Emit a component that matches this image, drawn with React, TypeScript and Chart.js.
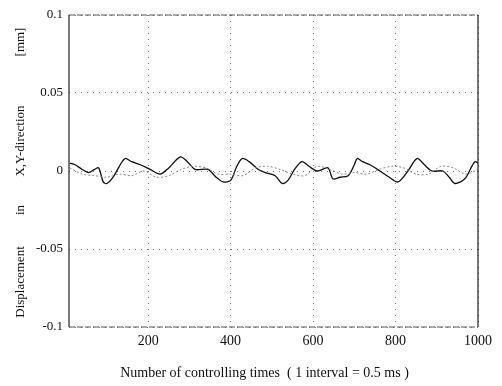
import React, { useEffect, useRef } from "react";
import { Chart, registerables } from "chart.js";

Chart.register(...registerables);

const darkX = [10, 23, 40, 55, 70, 80, 91, 100, 115, 130, 144, 160, 181, 205, 229, 250, 278, 295, 314, 345, 365, 382, 400, 415, 428, 445, 467, 484, 508, 525, 539, 555, 573, 590, 610, 636, 648, 665, 685, 700, 707, 720, 738, 762, 785, 806, 830, 852, 870, 888, 915, 930, 944, 968, 985, 993, 1000];
const darkY = [0.005, 0.004, 0.001, -0.001, 0.001, 0.002, -0.007, -0.008, -0.004, 0.003, 0.008, 0.006, 0.004, 0.001, -0.002, 0.002, 0.009, 0.006, 0.001, 0.001, -0.004, -0.007, -0.006, 0.003, 0.008, 0.006, 0.001, -0.001, -0.003, -0.008, -0.006, 0.001, 0.006, 0.003, 0.0, 0.002, -0.005, -0.004, -0.003, 0.004, 0.008, 0.006, 0.004, 0.0, -0.004, -0.007, 0.0, 0.008, 0.004, 0.0, 0.0, -0.004, -0.008, -0.005, 0.003, 0.006, 0.005];

const lightX = [10, 40, 70, 100, 130, 160, 190, 220, 250, 280, 310, 340, 370, 400, 430, 460, 490, 520, 550, 580, 610, 640, 670, 700, 730, 760, 790, 820, 850, 880, 910, 940, 970, 1000];
const lightY = [0.002, -0.002, -0.003, -0.004, -0.002, -0.003, 0.0, -0.004, -0.003, 0.001, 0.003, 0.002, -0.002, -0.002, -0.003, 0.002, 0.003, 0.001, -0.002, -0.003, 0.003, 0.001, -0.002, -0.001, -0.002, 0.001, 0.003, 0.002, -0.002, -0.002, 0.003, 0.002, -0.002, 0.001];

const xTicks = [200, 400, 600, 800, 1000];
const yTicks = [-0.1, -0.05, 0, 0.05, 0.1];
const yTickLabels = ["-0.1", "-0.05", "0", "0.05", "0.1"];
const xTitle = "Number of controlling times  ( 1 interval = 0.5 ms )";
const yTitleParts = ["Displacement", "in", "X,Y-direction", "[mm]"];

const FONT = "'Liberation Serif', 'DejaVu Serif', serif";

export default function App() {
  const ref = useRef<HTMLCanvasElement | null>(null);
  useEffect(() => {
    if (!ref.current) return;
    const framePlugin = {
      id: "frame",
      afterDraw(chart: any) {
        const { ctx, chartArea: a } = chart;
        ctx.save();
        ctx.strokeStyle = "#222";
        ctx.lineWidth = 1.2;
        ctx.beginPath();
        ctx.moveTo(a.left, a.top);
        ctx.lineTo(a.left, a.bottom);
        ctx.moveTo(a.right, a.top);
        ctx.lineTo(a.right, a.bottom);
        ctx.stroke();
        ctx.setLineDash([6, 2]);
        ctx.strokeStyle = "#555";
        ctx.lineWidth = 1;
        ctx.beginPath();
        ctx.moveTo(a.left, a.top);
        ctx.lineTo(a.right, a.top);
        ctx.moveTo(a.left, a.bottom);
        ctx.lineTo(a.right, a.bottom);
        ctx.stroke();
        ctx.setLineDash([]);
        ctx.fillStyle = "#111";
        ctx.font = `14px ${FONT}`;
        ctx.textAlign = "center";
        ctx.textBaseline = "middle";
        ctx.fillText(xTitle, (a.left + a.right) / 2 - 9, 373);
        ctx.font = `13px ${FONT}`;
        ctx.translate(21, 0);
        ctx.rotate(-Math.PI / 2);
        ctx.fillText(yTitleParts[0], -282, 0);
        ctx.fillText(yTitleParts[1], -210, 0);
        ctx.fillText(yTitleParts[2], -141, 0);
        ctx.fillText(yTitleParts[3], -42, 0);
        ctx.restore();
      },
    };
    const chart = new Chart(ref.current, {
      type: "line",
      data: {
        datasets: [
          {
            data: lightX.map((x, i) => ({ x, y: lightY[i] })),
            borderColor: "#8a8a8a",
            borderWidth: 1,
            borderDash: [2, 2],
            pointRadius: 0,
            tension: 0.3,
          },
          {
            data: darkX.map((x, i) => ({ x, y: darkY[i] })),
            borderColor: "#111",
            borderWidth: 1.3,
            pointRadius: 0,
            tension: 0.3,
          },
        ],
      },
      options: {
        animation: false,
        responsive: false,
        maintainAspectRatio: false,
        layout: { padding: { top: 15, right: 24, left: 0, bottom: 0 } },
        plugins: { legend: { display: false }, tooltip: { enabled: false } },
        scales: {
          x: {
            type: "linear",
            min: 8,
            max: 1000,
            afterBuildTicks: (s: any) => {
              s.ticks = xTicks.map((v) => ({ value: v }));
            },
            afterFit: (s: any) => {
              s.height = 59;
            },
            border: { display: false, dash: [1, 5] },
            grid: {
              drawTicks: false,
              color: "#777",
              lineWidth: 1,
            },
            ticks: {
              padding: 6,
              color: "#111",
              font: { family: FONT, size: 14 },
              maxRotation: 0,
              callback: (v: any) => String(v),
            },
          },
          y: {
            type: "linear",
            min: -0.1,
            max: 0.1,
            afterBuildTicks: (s: any) => {
              s.ticks = yTicks.map((v) => ({ value: v }));
            },
            afterFit: (s: any) => {
              s.width = 69;
            },
            border: { display: false, dash: [1, 5] },
            grid: {
              drawTicks: false,
              color: "#777",
              lineWidth: 1,
            },
            ticks: {
              padding: 6,
              color: "#111",
              font: { family: FONT, size: 13 },
              callback: (v: any) => {
                const i = yTicks.findIndex((t) => Math.abs(t - v) < 1e-9);
                return i >= 0 ? yTickLabels[i] : "";
              },
            },
          },
        },
      },
      plugins: [framePlugin],
    } as any);
    return () => chart.destroy();
  }, []);
  return (
    <div style={{ position: "fixed", left: 0, top: 0, width: 502, height: 386, background: "#fff" }}>
      <canvas ref={ref} width={502} height={386} style={{ width: 502, height: 386 }} />
    </div>
  );
}
